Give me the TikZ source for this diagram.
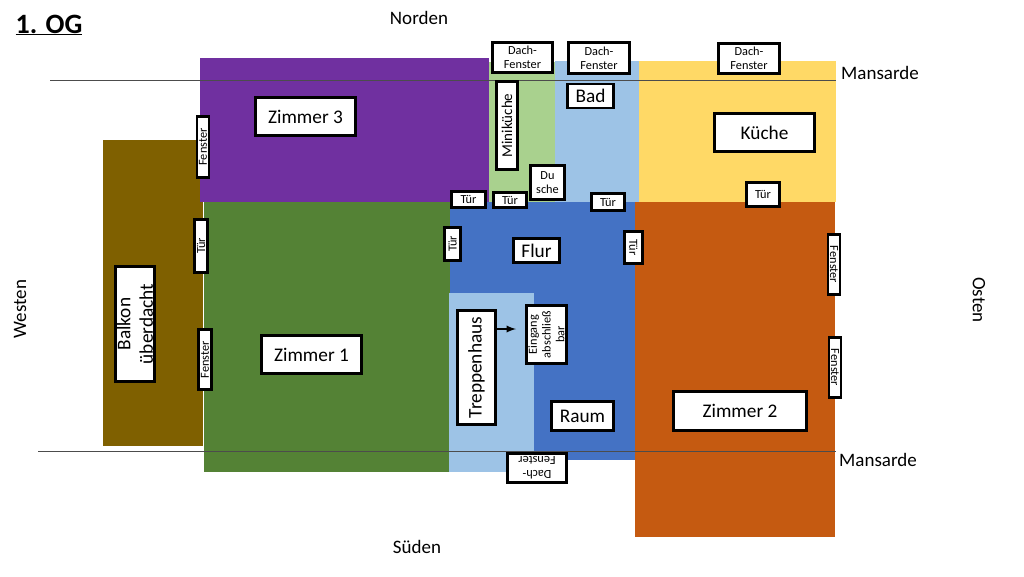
\documentclass[tikz,border=0pt]{standalone}
\usepackage{fontspec}
\setmainfont{Carlito}
\definecolor{balkon}{HTML}{7F6000}
\definecolor{lila}{HTML}{7030A0}
\definecolor{gruen}{HTML}{548235}
\definecolor{hellgruen}{HTML}{A9D18E}
\definecolor{hellblau}{HTML}{9DC3E6}
\definecolor{gelb}{HTML}{FFD966}
\definecolor{blau}{HTML}{4472C4}
\definecolor{orange}{HTML}{C55A11}
\tikzset{
  schild/.style={draw=black,fill=white,line width=2.6pt,inner sep=0pt,align=center},
  gross/.style={schild,font=\fontsize{19.3}{22.5}\selectfont},
  mittel/.style={schild,font=\fontsize{15}{18}\selectfont},
  klein/.style={schild,font=\fontsize{12.3}{13.8}\selectfont},
  frei/.style={font=\fontsize{19}{21}\selectfont},
}
\begin{document}
\begin{tikzpicture}[x=1pt,y=-1pt]
  \useasboundingbox (0,0) rectangle (1024,576);
  \fill[balkon] (103,140) rectangle (203,446);
  \fill[gruen] (204,202) rectangle (450,472);
  \fill[hellgruen] (489,62) rectangle (555,202);
  \fill[hellblau] (555,61) rectangle (639,202);
  \fill[gelb] (639,61) rectangle (836,202);
  \fill[blau] (450,202) rectangle (636,460);
  \fill[hellblau] (449,293) rectangle (534,472);
  \fill[orange] (635,202) rectangle (835,537);
  \fill[lila] (200,58) rectangle (489,202);
  \draw[black!70,line width=0.5pt] (50,80) -- (836,80);
  \draw[black!70,line width=0.5pt] (38,451) -- (836,451);

  \node[font=\fontsize{28}{30}\selectfont\bfseries] (titel) at (49,25) {\underline{1. OG}};
  \node[frei] (norden) at (419,18) {Norden};
  \node[frei] (sueden) at (417,547) {Süden};
  \node[frei,rotate=90] (westen) at (20,309) {Westen};
  \node[frei,rotate=-90] (osten) at (979,300) {Osten};
  \node[frei] (mansardeo) at (880,73) {Mansarde};
  \node[frei] (mansardeu) at (878,460) {Mansarde};

  \node[klein,minimum width=60,minimum height=30] (dachA) at (522.5,57.5) {Dach-\\Fenster};
  \node[klein,minimum width=61,minimum height=31] (dachB) at (599,58) {Dach-\\Fenster};
  \node[klein,minimum width=61,minimum height=30] (dachC) at (749,58.5) {Dach-\\Fenster};
  \node[klein,rotate=180,minimum width=59,minimum height=29] (dachD) at (537,468) {Dach-\\Fenster};
  \node[gross,minimum width=100,minimum height=38] (zimmerdrei) at (305.5,116.5) {Zimmer 3};
  \node[gross,minimum width=100,minimum height=38] (zimmereins) at (311.5,354.5) {Zimmer 1};
  \node[gross,minimum width=133,minimum height=39] (zimmerzwei) at (740,411) {Zimmer 2};
  \node[gross,minimum width=100,minimum height=38] (kueche) at (764.5,132.5) {Küche};
  \node[gross,minimum width=46,minimum height=24] (bad) at (590.5,96) {Bad};
  \node[gross,minimum width=46,minimum height=24] (flur) at (536.5,250.5) {Flur};
  \node[gross,minimum width=62,minimum height=29] (raum) at (582.5,416) {Raum};
  \node[mittel,rotate=90,minimum width=88,minimum height=21] (minikueche) at (507,125.5) {Miniküche};
  \node[gross,rotate=90,minimum width=114,minimum height=38] (treppe) at (476.5,367.5) {Treppenhaus};
  \node[gross,rotate=90,minimum width=115,minimum height=39] (balkonbox) at (135,324) {Balkon\\überdacht};
  \node[klein,minimum width=34,minimum height=34] (dusche) at (547.5,182.5) {Du\\sche};
  \node[klein,minimum width=34,minimum height=16] (tuerA) at (468.5,199.5) {Tür};
  \node[klein,minimum width=33,minimum height=15] (tuerB) at (510,200) {Tür};
  \node[klein,minimum width=33,minimum height=17] (tuerC) at (608,202) {Tür};
  \node[klein,minimum width=33,minimum height=24] (tuerD) at (763,194.5) {Tür};
  \node[klein,rotate=90,minimum width=33,minimum height=16] (tuerE) at (452.5,244) {Tür};
  \node[klein,rotate=-90,minimum width=32,minimum height=18] (tuerF) at (633.5,247.5) {Tür};
  \node[klein,rotate=90,minimum width=53,minimum height=13] (tuerG) at (201,246) {Tür};
  \node[klein,rotate=90,minimum width=61,minimum height=12] (fensterA) at (203,147) {Fenster};
  \node[klein,rotate=90,minimum width=60,minimum height=13] (fensterB) at (205,359.5) {Fenster};
  \node[klein,rotate=-90,minimum width=60,minimum height=12] (fensterC) at (834,264.5) {Fenster};
  \node[klein,rotate=-90,minimum width=60,minimum height=12] (fensterD) at (835,367.5) {Fenster};
  \node[klein,rotate=90,minimum width=58,minimum height=40] (eingang) at (546.5,334.5) {Eingang\\abschließ\\bar};
  \coordinate (pfeil) at (516,329);
  \draw[-latex,line width=2.2pt] (treppe.south |- pfeil) -- (pfeil);
\end{tikzpicture}
\end{document}
